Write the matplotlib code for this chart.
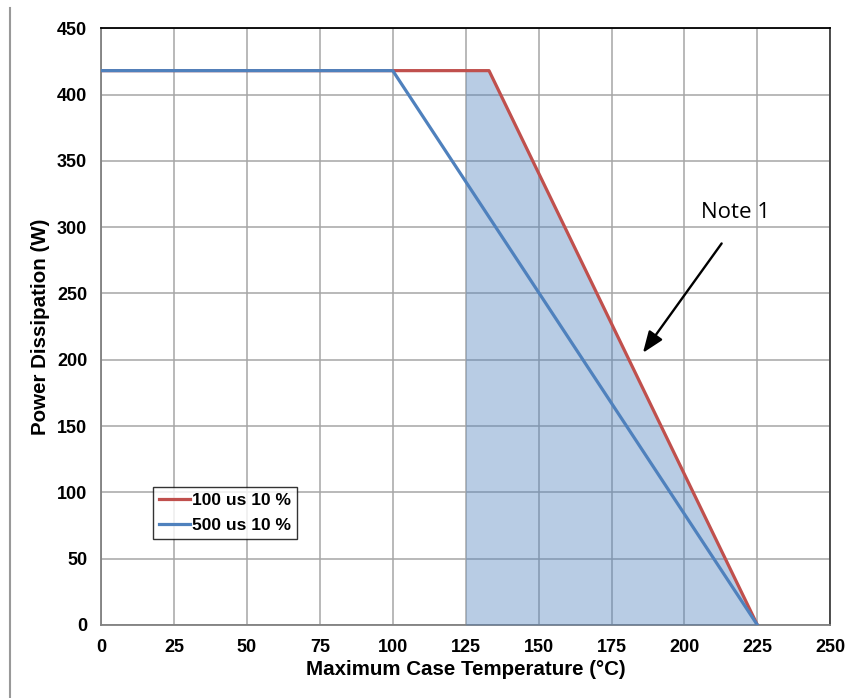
import matplotlib.pyplot as plt
from matplotlib.lines import Line2D

# derating curves (temperature in degC, power in W)
temp_100us = [0, 133, 225]
power_100us = [418, 418, 0]
temp_500us = [0, 100, 225]
power_500us = [418, 418, 0]

# shaded area (Note 1)
shade_temp = [125, 133, 225]
shade_power = [418, 418, 0]

x_ticks = [0, 25, 50, 75, 100, 125, 150, 175, 200, 225, 250]
y_ticks = [0, 50, 100, 150, 200, 250, 300, 350, 400, 450]

RED = "#C0504D"
BLUE = "#4F81BD"

plt.rcParams["font.family"] = ["Liberation Sans", "DejaVu Sans"]

fig = plt.figure(figsize=(8.49, 6.98), dpi=100)
ax = fig.add_axes([0.119, 0.1046, 0.859, 0.855])

ax.fill_between(shade_temp, shade_power, 0, color=BLUE, alpha=0.4, lw=0, zorder=3)
ax.plot(temp_100us, power_100us, color=RED, lw=2.3, label="100 us 10 %", zorder=4)
ax.plot(temp_500us, power_500us, color=BLUE, lw=2.3, label="500 us 10 %", zorder=5)

ax.set_xlim(0, 250)
ax.set_ylim(0, 450)
ax.set_xticks(x_ticks)
ax.set_yticks(y_ticks)
ax.tick_params(axis="both", length=0, labelsize=13, pad=10)
for lbl in ax.get_xticklabels() + ax.get_yticklabels():
    lbl.set_fontweight("bold")
    lbl.set_fontsize(13)
ax.grid(True, color="#A6A6A6", lw=1.1)
for g in ax.get_xgridlines() + ax.get_ygridlines():
    g.set_zorder(3.5)

ax.spines["top"].set_color("black")
ax.spines["right"].set_color("#404040")
ax.spines["left"].set_color("#808080")
ax.spines["bottom"].set_color("#808080")
for s in ax.spines.values():
    s.set_linewidth(1.3)

ax.set_xlabel("Maximum Case Temperature (°C)", fontsize=14.8, fontweight="bold", labelpad=3)
ax.set_ylabel("Power Dissipation (W)", fontsize=14.8, fontweight="bold", labelpad=5)

leg = ax.legend(loc="lower left", bbox_to_anchor=(0.071, 0.144), frameon=True, fancybox=False,
                prop={"weight": "bold", "size": 12.5}, handlelength=1.8,
                handletextpad=0.1, borderpad=0.35, labelspacing=0.55, borderaxespad=0)
leg.get_frame().set_edgecolor("black")
leg.get_frame().set_linewidth(1.0)

ax.annotate("", xy=(185.2, 203.5), xytext=(213.3, 289.4),
            arrowprops=dict(arrowstyle="-|>,head_length=1.3,head_width=0.5", color="black", lw=1.7),
            zorder=6)
ax.text(217.4, 311, "Note 1", fontsize=16, family=["Open Sans", "DejaVu Sans"],
        ha="center", va="center", zorder=6)

fig.add_artist(Line2D([0.012, 0.012], [0.0, 0.988], color="#999999", lw=1.5))

fig.savefig("out.png", dpi=100)
